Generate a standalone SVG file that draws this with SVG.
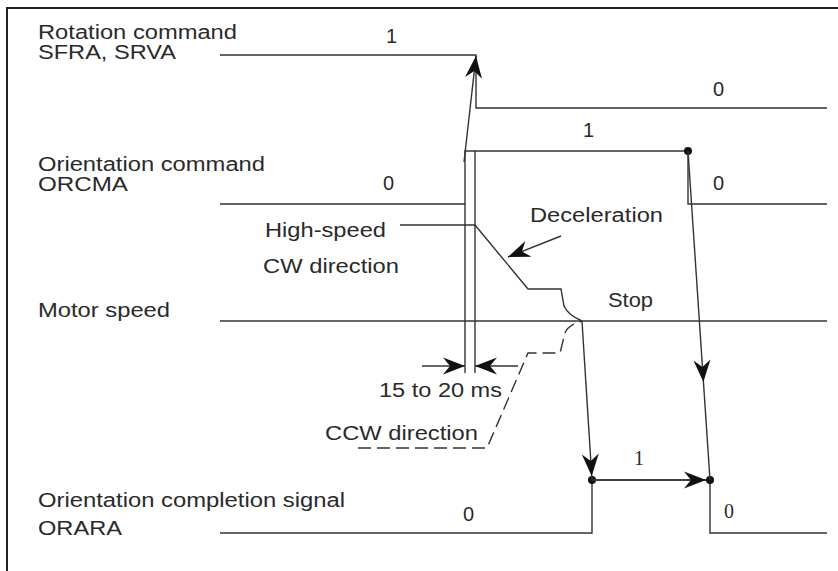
<svg xmlns="http://www.w3.org/2000/svg" xmlns:xlink="http://www.w3.org/1999/xlink" width="838" height="571" viewBox="0 0 838 571">
<defs>
<style>
.t{font-family:"Liberation Sans",Arial,sans-serif;font-size:20px;fill:#2a2a2a}
.s{font-family:"Liberation Serif","Times New Roman",serif;font-size:20px;fill:#2a2a2a}
.ln{fill:none;stroke:#333;stroke-width:1.4}
.dash{fill:none;stroke:#333;stroke-width:1.4;stroke-dasharray:13,6}
.frame{fill:none;stroke:#222;stroke-width:2}
.dot{fill:#111}
.ah{fill:#111}
</style>
<path id="arr" d="M0,0 L-22,-8.5 L-15,0 L-22,8.5 Z"/>
</defs>
<rect width="838" height="571" fill="#fff"/>
<path class="frame" d="M7,571 L7,8 L838,8"/>

<g id="rotation">
<text class="t" x="38" y="39" textLength="199" lengthAdjust="spacingAndGlyphs">Rotation command</text>
<text class="t" x="38" y="59" textLength="138" lengthAdjust="spacingAndGlyphs">SFRA, SRVA</text>
<path class="ln" d="M220,55 L476,55 L476,108 L827,108"/>
<text class="t" x="386" y="43">1</text>
<text class="t" x="713" y="96">0</text>
</g>

<g id="orientation-command">
<text class="t" x="38" y="171" textLength="227" lengthAdjust="spacingAndGlyphs">Orientation command</text>
<text class="t" x="38" y="191" textLength="90" lengthAdjust="spacingAndGlyphs">ORCMA</text>
<path class="ln" d="M220,204 L465,204 L465,151 L688,151 L688,204 L827,204"/>
<circle class="dot" cx="688" cy="151" r="4"/>
<text class="t" x="383" y="190">0</text>
<text class="t" x="583" y="137">1</text>
<text class="t" x="713" y="190">0</text>
</g>

<g id="motor-speed">
<text class="t" x="38" y="317" textLength="132" lengthAdjust="spacingAndGlyphs">Motor speed</text>
<path class="ln" d="M220,321 L827,321"/>
<path class="ln" d="M400,225 L475,225 L528,289 L561,289 L564,306 Q568,315 582,321"/>
<path class="dash" d="M358,448 L487,448 L528,353 L560,353 L565,333 Q568,325 582,321"/>
<text class="t" x="265" y="237" textLength="121" lengthAdjust="spacingAndGlyphs">High-speed</text>
<text class="t" x="263" y="273" textLength="136" lengthAdjust="spacingAndGlyphs">CW direction</text>
<text class="t" x="530" y="222" textLength="133" lengthAdjust="spacingAndGlyphs">Deceleration</text>
<text class="t" x="608" y="307" textLength="45" lengthAdjust="spacingAndGlyphs">Stop</text>
<text class="t" x="379" y="397" textLength="123" lengthAdjust="spacingAndGlyphs">15 to 20 ms</text>
<text class="t" x="325" y="440" textLength="153" lengthAdjust="spacingAndGlyphs">CCW direction</text>
</g>

<g id="orientation-completion">
<text class="t" x="38" y="507" textLength="307" lengthAdjust="spacingAndGlyphs">Orientation completion signal</text>
<text class="t" x="38" y="535" textLength="84" lengthAdjust="spacingAndGlyphs">ORARA</text>
<path class="ln" d="M220,533 L592,533 L592,480 L710,480 L710,533 L827,533"/>
<circle class="dot" cx="592" cy="480" r="4"/>
<circle class="dot" cx="710" cy="480" r="4"/>
<text class="t" x="463" y="521">0</text>
<text class="s" x="634" y="465">1</text>
<text class="s" x="724" y="518">0</text>
</g>

<g id="connectors">
<path class="ln" d="M465,204 L465,373"/>
<path class="ln" d="M475,151 L475,373"/>
<path class="ln" d="M464,162 L476,56"/>
<use xlink:href="#arr" class="ah" transform="translate(476,56) rotate(-83.5)"/>
<path class="ln" d="M422,366 L465,366"/>
<use xlink:href="#arr" class="ah" transform="translate(465,366)"/>
<path class="ln" d="M518,366 L475,366"/>
<use xlink:href="#arr" class="ah" transform="translate(475,366) rotate(180)"/>
<path class="ln" d="M561,236 L508,257"/>
<use xlink:href="#arr" class="ah" transform="translate(508,257) rotate(158.4)"/>
<path class="ln" d="M582,321 L592,480"/>
<use xlink:href="#arr" class="ah" transform="translate(591.7,476) rotate(86.4)"/>
<path class="ln" d="M688,151 L710,480"/>
<use xlink:href="#arr" class="ah" transform="translate(703.4,382) rotate(86.2)"/>
<path class="ln" d="M592,480 L706,480"/>
<use xlink:href="#arr" class="ah" transform="translate(706,480)"/>
</g>
</svg>
